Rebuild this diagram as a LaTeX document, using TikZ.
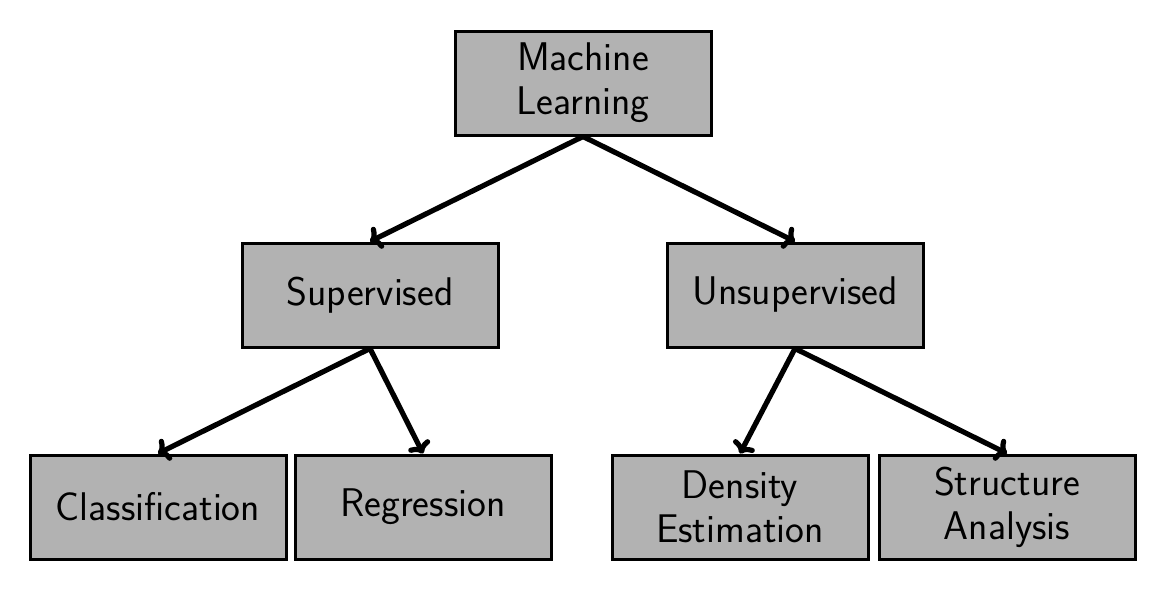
\documentclass[tikz,border=0pt]{standalone}
\usetikzlibrary{arrows.meta}
\begin{document}
\begin{tikzpicture}[x=0.5pt,y=-0.5pt,
  box/.style={draw=black, line width=1.5pt, fill=black!30, minimum width=128pt, minimum height=52pt, inner sep=0pt, align=center, font=\sffamily\fontsize{20}{22}\selectfont},
  conn/.style={line width=2.6pt, -{To[length=5.5pt,width=12pt]}}]
\useasboundingbox (0,0) rectangle (1157,594);
\node[box] (ml) at (583,83) {Machine\\Learning};
\node[box] (sup) at (370,295) {Supervised};
\node[box] (uns) at (795,295) {Unsupervised};
\node[box] (cla) at (158,507) {Classification};
\node[box] (reg) at (423,507) {Regression};
\node[box] (den) at (740,507) {Density\\Estimation};
\node[box] (str) at (1007,507) {Structure\\Analysis};
\draw[conn] (ml.south) -- (sup.north);
\draw[conn] (ml.south) -- (uns.north);
\draw[conn] (sup.south) -- (cla.north);
\draw[conn] (sup.south) -- (reg.north);
\draw[conn] (uns.south) -- (den.north);
\draw[conn] (uns.south) -- (str.north);
\end{tikzpicture}
\end{document}
